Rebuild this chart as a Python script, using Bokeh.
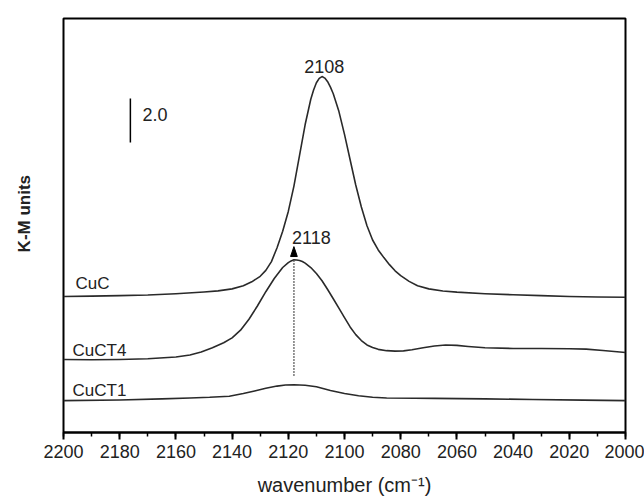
import numpy as np
from bokeh.plotting import figure
from bokeh.models import Range1d, SingleIntervalTicker, FixedTicker, Label
from bokeh.embed import file_html
from bokeh.resources import INLINE

# DRIFT spectra of adsorbed CO, Kubelka-Munk units
cuc_wn = [2200, 2190, 2180, 2170, 2160, 2150, 2145, 2140, 2136, 2133, 2130, 2128,
          2126, 2124, 2122, 2120, 2118, 2116, 2114, 2112, 2111, 2110, 2109, 2108,
          2107, 2106, 2105, 2104, 2102, 2100, 2098, 2096, 2094, 2092, 2090, 2088,
          2086, 2084, 2082, 2080, 2077, 2074, 2070, 2065, 2060, 2050, 2040, 2030,
          2020, 2010, 2000]
cuc_km = [0.03, 0.05, 0.07, 0.10, 0.16, 0.24, 0.29, 0.38, 0.52, 0.70, 0.95, 1.22,
          1.62, 2.25, 3.00, 3.90, 5.05, 6.45, 7.85, 9.00, 9.42, 9.75, 9.95, 10.03,
          9.96, 9.80, 9.55, 9.25, 8.45, 7.40, 6.25, 5.10, 4.10, 3.25, 2.60, 2.15,
          1.80, 1.48, 1.20, 0.98, 0.72, 0.52, 0.38, 0.28, 0.23, 0.16, 0.11, 0.07,
          0.03, 0.01, 0.00]

cuct4_wn = [2200, 2190, 2180, 2170, 2160, 2155, 2151, 2147, 2143, 2140, 2137, 2134,
            2131, 2128, 2125, 2122, 2120, 2119, 2118, 2117, 2116, 2115, 2114, 2112,
            2110, 2108, 2106, 2104, 2102, 2100, 2098, 2096, 2094, 2092, 2090, 2088,
            2085, 2082, 2079, 2076, 2072, 2068, 2064, 2060, 2056, 2050, 2040, 2030,
            2020, 2014, 2008, 2000]
cuct4_km = [0.02, 0.01, 0.02, 0.05, 0.13, 0.22, 0.36, 0.55, 0.78, 1.00, 1.35, 1.85,
            2.45, 3.10, 3.70, 4.20, 4.42, 4.50, 4.55, 4.54, 4.52, 4.47, 4.40, 4.20,
            3.93, 3.60, 3.20, 2.78, 2.35, 1.92, 1.50, 1.15, 0.88, 0.68, 0.56, 0.48,
            0.42, 0.40, 0.41, 0.46, 0.55, 0.63, 0.68, 0.66, 0.61, 0.55, 0.52, 0.52,
            0.51, 0.49, 0.43, 0.34]

cuct1_wn = [2200, 2180, 2165, 2155, 2148, 2141, 2136, 2132, 2128, 2124, 2121, 2118,
            2114, 2110, 2105, 2100, 2095, 2090, 2085, 2075, 2068, 2050, 2033, 2015, 2000]
cuct1_km = [0.00, 0.03, 0.08, 0.12, 0.15, 0.20, 0.32, 0.44, 0.56, 0.66, 0.71, 0.72,
            0.70, 0.63, 0.46, 0.32, 0.22, 0.15, 0.12, 0.11, 0.10, 0.08, 0.05, 0.02, 0.00]

# vertical stacking offsets (K-M units)
offset_cuc = 6.15
offset_cuct4 = 3.30
offset_cuct1 = 1.45

series_names = ["CuC", "CuCT4", "CuCT1"]
x_ticks_step = 20
scale_bar_value = 2.0
scale_bar_x = 2176.2
scale_bar_bottom = 13.18

FONT = "Liberation Sans"
TEXT_COLOR = "#222222"
LINE_COLOR = "#2a2a2a"

p = figure(frame_width=562, frame_height=414,
           min_border_left=63, min_border_right=19, min_border_top=18, min_border_bottom=65,
           x_range=Range1d(2200, 2000), y_range=Range1d(0, 18.82),
           output_backend="svg", toolbar_location=None)
p.background_fill_color = "white"
p.border_fill_color = "white"
p.outline_line_color = "black"
p.outline_line_width = 2
p.xgrid.grid_line_color = None
p.ygrid.grid_line_color = None

# bottom axis
xa = p.xaxis[0]
xa.ticker = SingleIntervalTicker(interval=x_ticks_step, num_minor_ticks=2)
xa.axis_line_width = 2
xa.major_tick_in = 0
xa.major_tick_out = 7
xa.major_tick_line_width = 2
xa.minor_tick_in = 0
xa.minor_tick_out = 4
xa.minor_tick_line_width = 1.5
xa.major_label_text_font = FONT
xa.major_label_text_font_size = "18px"
xa.major_label_text_color = TEXT_COLOR
xa.major_label_standoff = 5
xa.axis_label = "wavenumber (cm\u207b\u00b9)"
xa.axis_label_text_font = FONT
xa.axis_label_text_font_size = "20px"
xa.axis_label_text_font_style = "normal"
xa.axis_label_text_color = TEXT_COLOR
xa.axis_label_standoff = 13

# left axis: label only (leading spaces lift the rotated text a little)
ya = p.yaxis[0]
ya.ticker = FixedTicker(ticks=[])
ya.axis_line_color = None
ya.major_tick_line_color = None
ya.minor_tick_line_color = None
ya.major_label_standoff = 0
ya.axis_label = "\u00a0\u00a0\u00a0\u00a0\u00a0K-M units"
ya.axis_label_text_font = FONT
ya.axis_label_text_font_size = "17px"
ya.axis_label_text_font_style = "bold"
ya.axis_label_text_color = TEXT_COLOR
ya.axis_label_standoff = 30

# spectra
spectra = [(cuc_wn, cuc_km, offset_cuc), (cuct4_wn, cuct4_km, offset_cuct4),
           (cuct1_wn, cuct1_km, offset_cuct1)]
for wn, km, off in spectra:
    p.line(wn, np.array(km) + off, line_color=LINE_COLOR, line_width=1.6,
           line_join="round")

# peak of CuCT4: dotted marker line and arrowhead
i4 = int(np.argmax(cuct4_km))
pk4_wn = cuct4_wn[i4]
pk4_y = cuct4_km[i4] + offset_cuct4
i1 = int(np.argmax(cuct1_km))
p.segment(x0=[pk4_wn], y0=[cuct1_km[i1] + offset_cuct1 + 0.42], x1=[pk4_wn], y1=[pk4_y - 0.05],
          line_color="black", line_width=1.6, line_dash="1 2")
head_base = pk4_y + 0.15
p.patch([pk4_wn + 1.2, pk4_wn - 1.2, pk4_wn], [head_base, head_base, head_base + 0.45],
        color="black")
p.add_layout(Label(x=pk4_wn + 0.7, y=head_base + 0.86, text=f"{pk4_wn}",
                   text_font=FONT, text_font_size="18px", text_color=TEXT_COLOR,
                   text_align="left", text_baseline="middle"))

# peak of CuC
ic = int(np.argmax(cuc_km))
pkc_wn = cuc_wn[ic]
pkc_y = cuc_km[ic] + offset_cuc
p.add_layout(Label(x=pkc_wn - 0.8, y=pkc_y + 0.48, text=f"{pkc_wn}",
                   text_font=FONT, text_font_size="18px", text_color=TEXT_COLOR,
                   text_align="center", text_baseline="middle"))

# scale bar
p.segment(x0=[scale_bar_x], y0=[scale_bar_bottom], x1=[scale_bar_x],
          y1=[scale_bar_bottom + scale_bar_value], line_color="black", line_width=1.5)
p.add_layout(Label(x=scale_bar_x - 4.3, y=scale_bar_bottom + scale_bar_value * 0.63,
                   text=f"{scale_bar_value:.1f}", text_font=FONT, text_font_size="18px",
                   text_color=TEXT_COLOR, text_align="left", text_baseline="middle"))

# series names
name_pos = [(2195.7, offset_cuc + 0.62), (2196.8, offset_cuct4 + 0.43), (2196.8, offset_cuct1 + 0.46)]
for name, (nx, ny) in zip(series_names, name_pos):
    p.add_layout(Label(x=nx, y=ny, text=name, text_font=FONT, text_font_size="17px",
                       text_color=TEXT_COLOR, text_align="left", text_baseline="middle"))

open("out.html", "w").write(file_html(p, INLINE))
